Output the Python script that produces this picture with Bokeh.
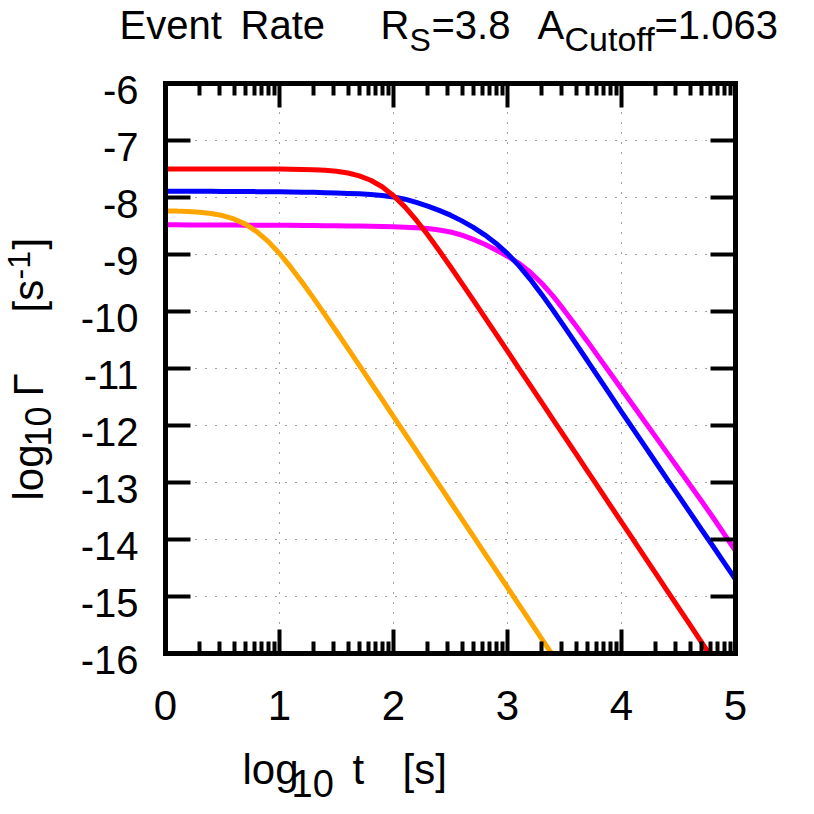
import numpy as np
from bokeh.plotting import figure
from bokeh.models import (LinearAxis, FixedTicker, Label, LabelSet,
                          ColumnDataSource, Range1d)
from bokeh.core.properties import value
from bokeh.embed import file_html
from bokeh.resources import INLINE

# ---------------- data ----------------
log_t = [0.0, 0.1, 0.2, 0.3, 0.4, 0.5, 0.6, 0.7, 0.8, 0.9,
         1.0, 1.1, 1.2, 1.3, 1.4, 1.5, 1.6, 1.7, 1.8, 1.9,
         2.0, 2.1, 2.2, 2.3, 2.4, 2.5, 2.6, 2.7, 2.8, 2.9,
         3.0, 3.1, 3.2, 3.3, 3.4, 3.5, 3.6, 3.7, 3.8, 3.9,
         4.0, 4.1, 4.2, 4.3, 4.4, 4.5, 4.6, 4.7, 4.8, 4.9, 5.0]

# red curve leaves the frame at the bottom edge near log t = 4.768
red_t = log_t[:48] + [4.768]
red = [-7.500, -7.500, -7.500, -7.500, -7.500, -7.500, -7.500, -7.501, -7.501, -7.501,
       -7.502, -7.504, -7.508, -7.513, -7.523, -7.541, -7.571, -7.620, -7.697, -7.811,
       -7.968, -8.165, -8.398, -8.655, -8.930, -9.215, -9.506, -9.801, -10.099, -10.397,
       -10.696, -10.996, -11.295, -11.595, -11.895, -12.195, -12.495, -12.795, -13.095, -13.395,
       -13.695, -13.995, -14.295, -14.595, -14.895, -15.195, -15.495, -15.795, -16.000]

blue = [-7.890, -7.890, -7.891, -7.891, -7.892, -7.893, -7.894, -7.895, -7.897, -7.898,
        -7.900, -7.903, -7.906, -7.910, -7.915, -7.921, -7.928, -7.936, -7.948, -7.965,
        -7.990, -8.030, -8.085, -8.150, -8.225, -8.310, -8.410, -8.525, -8.655, -8.805,
        -8.985, -9.195, -9.435, -9.700, -9.980, -10.270, -10.565, -10.860, -11.160, -11.460,
        -11.760, -12.055, -12.350, -12.645, -12.940, -13.230, -13.525, -13.820, -14.110, -14.405, -14.700]

magenta = [-8.480, -8.480, -8.481, -8.481, -8.482, -8.483, -8.484, -8.485, -8.486, -8.487,
           -8.488, -8.489, -8.490, -8.492, -8.494, -8.496, -8.498, -8.501, -8.504, -8.508,
           -8.513, -8.520, -8.530, -8.545, -8.570, -8.605, -8.660, -8.735, -8.820, -8.920,
           -9.030, -9.155, -9.310, -9.505, -9.730, -9.985, -10.250, -10.520, -10.800, -11.080,
           -11.360, -11.640, -11.920, -12.200, -12.480, -12.760, -13.040, -13.320, -13.605, -13.900, -14.200]

# orange curve leaves the frame at the bottom edge near log t = 3.386
orange_t = log_t[:34] + [3.386]
orange = [-8.235, -8.239, -8.247, -8.259, -8.281, -8.317, -8.376, -8.467, -8.597, -8.770,
          -8.982, -9.226, -9.491, -9.770, -10.058, -10.351, -10.647, -10.945, -11.244, -11.543,
          -11.843, -12.142, -12.442, -12.742, -13.042, -13.342, -13.642, -13.942, -14.242, -14.542,
          -14.842, -15.142, -15.442, -15.742, -16.000]

x_ticks = [0, 1, 2, 3, 4, 5]
x_tick_labels = ["0", "1", "2", "3", "4", "5"]
y_ticks = [-6, -7, -8, -9, -10, -11, -12, -13, -14, -15, -16]
y_tick_labels = ["-6", "-7", "-8", "-9", "-10", "-11", "-12", "-13", "-14", "-15", "-16"]

X_MIN, X_MAX = 0, 5
Y_MIN, Y_MAX = -16, -6

# minor ticks of x at log positions inside each decade
x_minor = [d + np.log10(k) for d in range(X_MIN, X_MAX) for k in range(2, 10)]

FONT = "Liberation Sans"

# ---------------- canvas geometry ----------------
W = H = 806
FX0, FY0 = 165.0, 83.0          # top-left corner of the plot box on the canvas
SX, SY = 114.0, 57.0            # pixels per data unit

p = figure(width=W, height=H,
           x_range=Range1d(X_MIN - FX0 / SX, X_MIN + (W - FX0) / SX),
           y_range=Range1d(Y_MAX - (H - FY0) / SY, Y_MAX + FY0 / SY),
           x_axis_type=None, y_axis_type=None, min_border=0,
           output_backend="svg", toolbar_location=None)
p.title.visible = False
p.outline_line_color = None
p.background_fill_color = "white"
p.border_fill_color = "white"
p.xgrid.visible = False
p.ygrid.visible = False

xticker = FixedTicker(ticks=x_ticks, minor_ticks=x_minor)
yticker = FixedTicker(ticks=y_ticks, minor_ticks=[])

# ---------------- dotted grid ----------------
gx = x_ticks[1:-1]
gy = y_ticks[1:-1]
p.segment(x0=gx, y0=[Y_MIN] * len(gx), x1=gx, y1=[Y_MAX] * len(gx),
          line_color="#404040", line_width=1, line_dash="1 9")
p.segment(x0=[X_MIN] * len(gy), y0=gy, x1=[X_MAX] * len(gy), y1=gy,
          line_color="#404040", line_width=1, line_dash="1 9")

# ---------------- curves ----------------
LW = 5
p.line(log_t, magenta, line_color="#ff00ff", line_width=LW)
p.line(log_t, blue, line_color="#0000ff", line_width=LW)
p.line(orange_t, orange, line_color="#ffa500", line_width=LW)
p.line(red_t, red, line_color="#ff0000", line_width=LW)


# ---------------- axes (box with inward, mirrored ticks) ----------------
def style_axis(ax, major_len):
    ax.axis_line_color = "black"
    ax.axis_line_width = 5
    ax.axis_line_cap = "square"
    ax.major_tick_in = major_len
    ax.major_tick_out = 0
    ax.minor_tick_in = 12
    ax.minor_tick_out = 0
    ax.major_tick_line_width = 4
    ax.minor_tick_line_width = 4
    ax.major_tick_line_color = "black"
    ax.minor_tick_line_color = "black"
    ax.major_label_text_font = FONT
    ax.major_label_text_color = "black"


xb = LinearAxis(ticker=xticker, fixed_location=Y_MIN, bounds=(X_MIN, X_MAX),
                major_label_overrides={t: l for t, l in zip(x_ticks, x_tick_labels)})
style_axis(xb, 24)
xb.major_label_text_font_size = "42px"
xb.major_label_standoff = 37
p.add_layout(xb, "below")

xt = LinearAxis(ticker=xticker, fixed_location=Y_MAX, bounds=(X_MIN, X_MAX))
style_axis(xt, 24)
xt.major_label_text_font_size = "0px"
xt.major_label_text_color = None
p.add_layout(xt, "above")

yl = LinearAxis(ticker=yticker, fixed_location=X_MIN, bounds=(Y_MIN, Y_MAX))
style_axis(yl, 25)
yl.major_label_text_font_size = "0px"
yl.major_label_text_color = None
p.add_layout(yl, "left")

yr = LinearAxis(ticker=yticker, fixed_location=X_MAX, bounds=(Y_MIN, Y_MAX))
style_axis(yr, 25)
yr.major_label_text_font_size = "0px"
yr.major_label_text_color = None
p.add_layout(yr, "right")

# ---------------- y tick labels ----------------
ysrc = ColumnDataSource(dict(x=[X_MIN] * len(y_ticks), y=y_ticks, t=y_tick_labels))
p.add_layout(LabelSet(x="x", y="y", text="t", source=ysrc,
                      x_offset=-27, y_offset=-6,
                      text_align="right", text_baseline="middle",
                      text_font=value(FONT), text_font_size=value("40px"),
                      text_color="black"))


# ---------------- helper: canvas pixel -> data coordinate for text ----------------
def dx(px):
    return X_MIN + (px - FX0) / SX


def dy(py):
    return Y_MAX - (py - FY0) / SY


BASE_FIX = 0.34   # empirical baseline correction, in units of the font size


def txt(s, px, py, size, angle=0.0):
    fs = float(size.replace("px", ""))
    if angle == 0.0:
        py = py - BASE_FIX * fs
    else:
        px = px - BASE_FIX * fs
    p.add_layout(Label(x=dx(px), y=dy(py), text=s, text_font=FONT,
                       text_font_size=size, text_color="black",
                       text_align="left", text_baseline="alphabetic",
                       angle=angle))


# title
txt("Event", 119, 38, "40px")
txt("Rate", 240, 38, "40px")
txt("R", 380, 38, "40px")
txt("S", 409, 50, "32px")
txt("=3.8", 431, 38, "40px")
txt("A", 537, 38, "40px")
txt("Cutoff", 564, 50, "34px")
txt("=1.063", 654, 38, "40px")

# x axis label
txt("log", 242, 783, "42px")
txt("10", 291, 796, "38px")
txt("t", 352, 783, "42px")
txt("[s]", 402, 783, "42px")

# y axis label (rotated)
A90 = np.pi / 2
txt("log", 42, 500, "42px", A90)
txt("10", 50, 446, "36px", A90)
txt("Γ", 42, 396, "42px", A90)
txt("[s", 42, 312, "42px", A90)
txt("-1", 29, 279, "32px", A90)
txt("]", 42, 249, "42px", A90)

open("out.html", "w").write(file_html(p, INLINE))
